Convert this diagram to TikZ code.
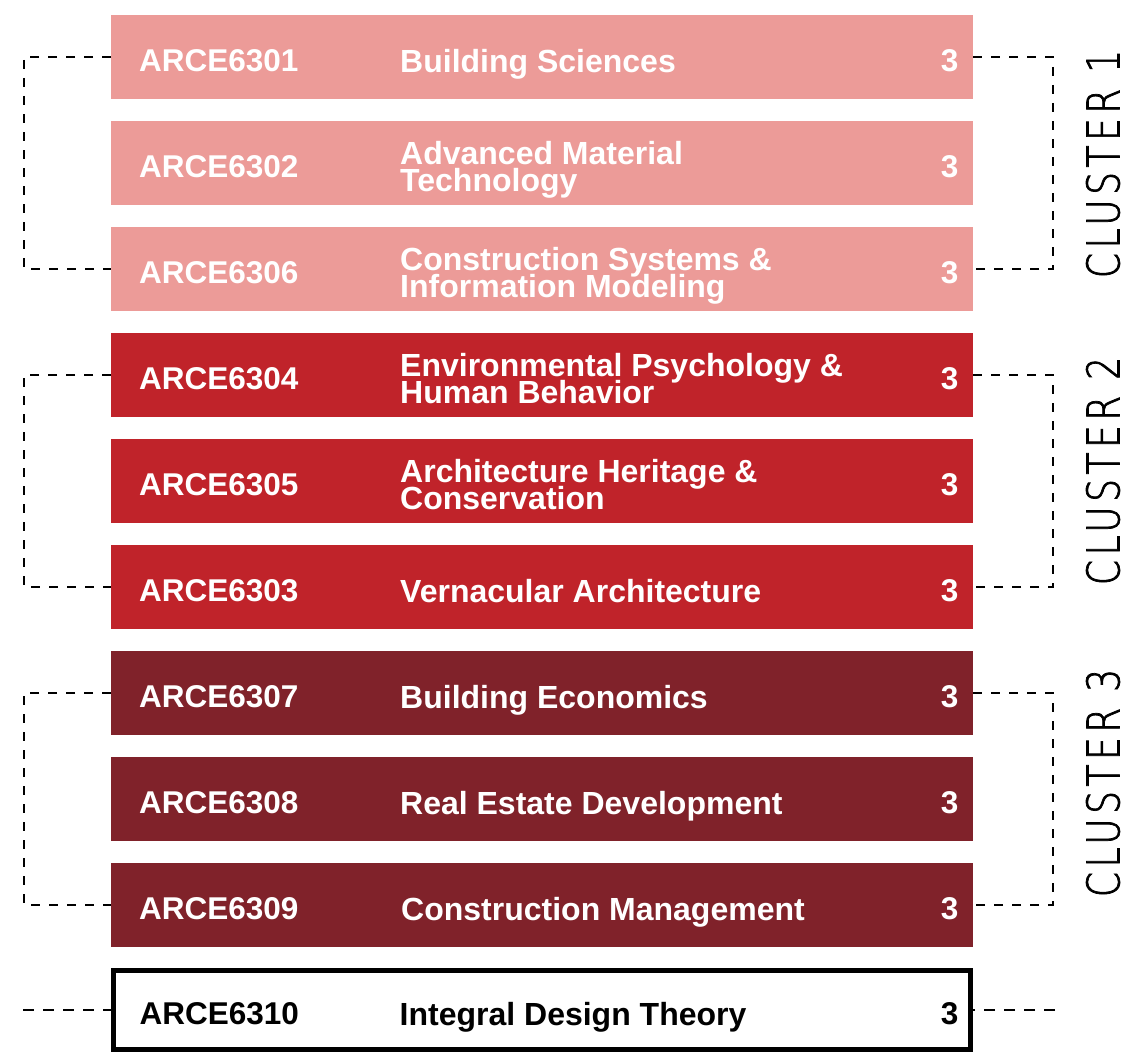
\documentclass[tikz,border=0pt]{standalone}
\usepackage{fontspec}
\setmainfont{Liberation Sans}
\IfFontExistsTF{DejaVu Sans ExtraLight}
  {\newfontfamily\clusterfont[FakeStretch=0.8,FakeBold=1.6,LetterSpace=10]{DejaVu Sans ExtraLight}}
  {\newfontfamily\clusterfont[FakeStretch=0.8,LetterSpace=10]{DejaVu Sans}}
\usetikzlibrary{positioning}
\definecolor{cluspink}{HTML}{EC9B98}
\definecolor{clusred}{HTML}{C0232A}
\definecolor{clusdark}{HTML}{80222A}
\newcommand\titlefont{\bfseries\fontsize{32}{27}\selectfont\lineskiplimit=-20pt\relax}

\tikzset{
  course/.style={rectangle, fill=#1, minimum width=862pt, minimum height=84pt, inner sep=0pt, outer sep=0pt},
  lastcourse/.style={rectangle, draw=black, line width=5pt, fill=white, minimum width=857pt, minimum height=79pt, inner sep=0pt, outer sep=0pt},
  ctext/.style={inner sep=0pt, text=white, font=\bfseries\fontsize{31.5}{28}\selectfont, yshift=-7.5pt, execute at end node=\strut},
  coursecode/.style={ctext, anchor=west},
  coursetitle/.style={ctext, anchor=west, align=left, font=\titlefont},
  coursecredit/.style={ctext, anchor=east},
  bracket/.style={draw=black, line width=2.2pt, dash pattern=on 9pt off 9pt},
  loose/.style={draw=black, line width=2.5pt, dash pattern=on 11pt off 9pt},
  cluster/.style={font=\clusterfont\fontsize{45}{45}\selectfont, rotate=90, inner sep=0pt}
}

\begin{document}
\begin{tikzpicture}[x=1pt, y=-1pt, node distance=28pt]
  \useasboundingbox (0,0) rectangle (1144,1057);

  % course bars
  \node[course=cluspink] (c6301) at (542,57)  {};
  \node[course=cluspink] (c6302) at (542,163) {};
  \node[course=cluspink] (c6306) at (542,269) {};
  \node[course=clusred]  (c6304) at (542,375) {};
  \node[course=clusred]  (c6305) at (542,481) {};
  \node[course=clusred]  (c6303) at (542,587) {};
  \node[course=clusdark] (c6307) at (542,693) {};
  \node[course=clusdark] (c6308) at (542,799) {};
  \node[course=clusdark] (c6309) at (542,905) {};
  \node[lastcourse]      (c6310) at (542,1010) {};

  % codes
  \node[coursecode, right=of c6301.west] {ARCE6301};
  \node[coursecode, right=of c6302.west] {ARCE6302};
  \node[coursecode, right=of c6306.west] {ARCE6306};
  \node[coursecode, right=of c6304.west] {ARCE6304};
  \node[coursecode, right=of c6305.west] {ARCE6305};
  \node[coursecode, right=of c6303.west] {ARCE6303};
  \node[coursecode, right=of c6307.west] {ARCE6307};
  \node[coursecode, right=of c6308.west] {ARCE6308};
  \node[coursecode, right=of c6309.west] {ARCE6309};
  \node[coursecode, text=black, right=26pt of c6310.west] {ARCE6310};

  % titles
  \node[coursetitle, right=289pt of c6301.west] {Building Sciences};
  \node[coursetitle, right=289pt of c6302.west] {Advanced Material\\Technology};
  \node[coursetitle, right=289pt of c6306.west] {Construction Systems \&\\Information Modeling};
  \node[coursetitle, right=289pt of c6304.west] {Environmental Psychology \&\\Human Behavior};
  \node[coursetitle, right=289pt of c6305.west] {Architecture Heritage \&\\Conservation};
  \node[coursetitle, right=289pt of c6303.west] {Vernacular Architecture};
  \node[coursetitle, right=289pt of c6307.west] {Building Economics};
  \node[coursetitle, right=289pt of c6308.west] {Real Estate Development};
  \node[coursetitle, right=290pt of c6309.west] {Construction Management};
  \node[coursetitle, text=black, right=286pt of c6310.west] {Integral Design Theory};

  % credits
  \node[coursecredit, left=14.5pt of c6301.east] {3};
  \node[coursecredit, left=14.5pt of c6302.east] {3};
  \node[coursecredit, left=14.5pt of c6306.east] {3};
  \node[coursecredit, left=14.5pt of c6304.east] {3};
  \node[coursecredit, left=14.5pt of c6305.east] {3};
  \node[coursecredit, left=14.5pt of c6303.east] {3};
  \node[coursecredit, left=14.5pt of c6307.east] {3};
  \node[coursecredit, left=14.5pt of c6308.east] {3};
  \node[coursecredit, left=14.5pt of c6309.east] {3};
  \node[coursecredit, text=black, left=12pt of c6310.east] {3};

  % cluster labels
  \node[cluster] (k1) at (1103,164) {CLUSTER 1};
  \node[cluster] (k2) at (1103,471) {CLUSTER 2};
  \node[cluster] (k3) at (1103,783) {CLUSTER 3};

  % brackets
  \coordinate (lft) at (24,0);
  \coordinate (rgt) at (1053,0);
  \coordinate (lend) at (23,1010);
  \coordinate (rend) at (1055,1010);
  \draw[bracket] (c6301.west) -- (c6301.west -| lft) |- (c6306.west);
  \draw[bracket] (c6301.east) -- (c6301.east -| rgt) |- (c6306.east);
  \draw[bracket] (c6304.west) -- (c6304.west -| lft) |- (c6303.west);
  \draw[bracket] (c6304.east) -- (c6304.east -| rgt) |- (c6303.east);
  \draw[bracket] (c6307.west) -- (c6307.west -| lft) |- (c6309.west);
  \draw[bracket] (c6307.east) -- (c6307.east -| rgt) |- (c6309.east);
  \draw[loose] (lend) -- (c6310.west);
  \draw[loose] (rend) -- (c6310.east);
\end{tikzpicture}
\end{document}
